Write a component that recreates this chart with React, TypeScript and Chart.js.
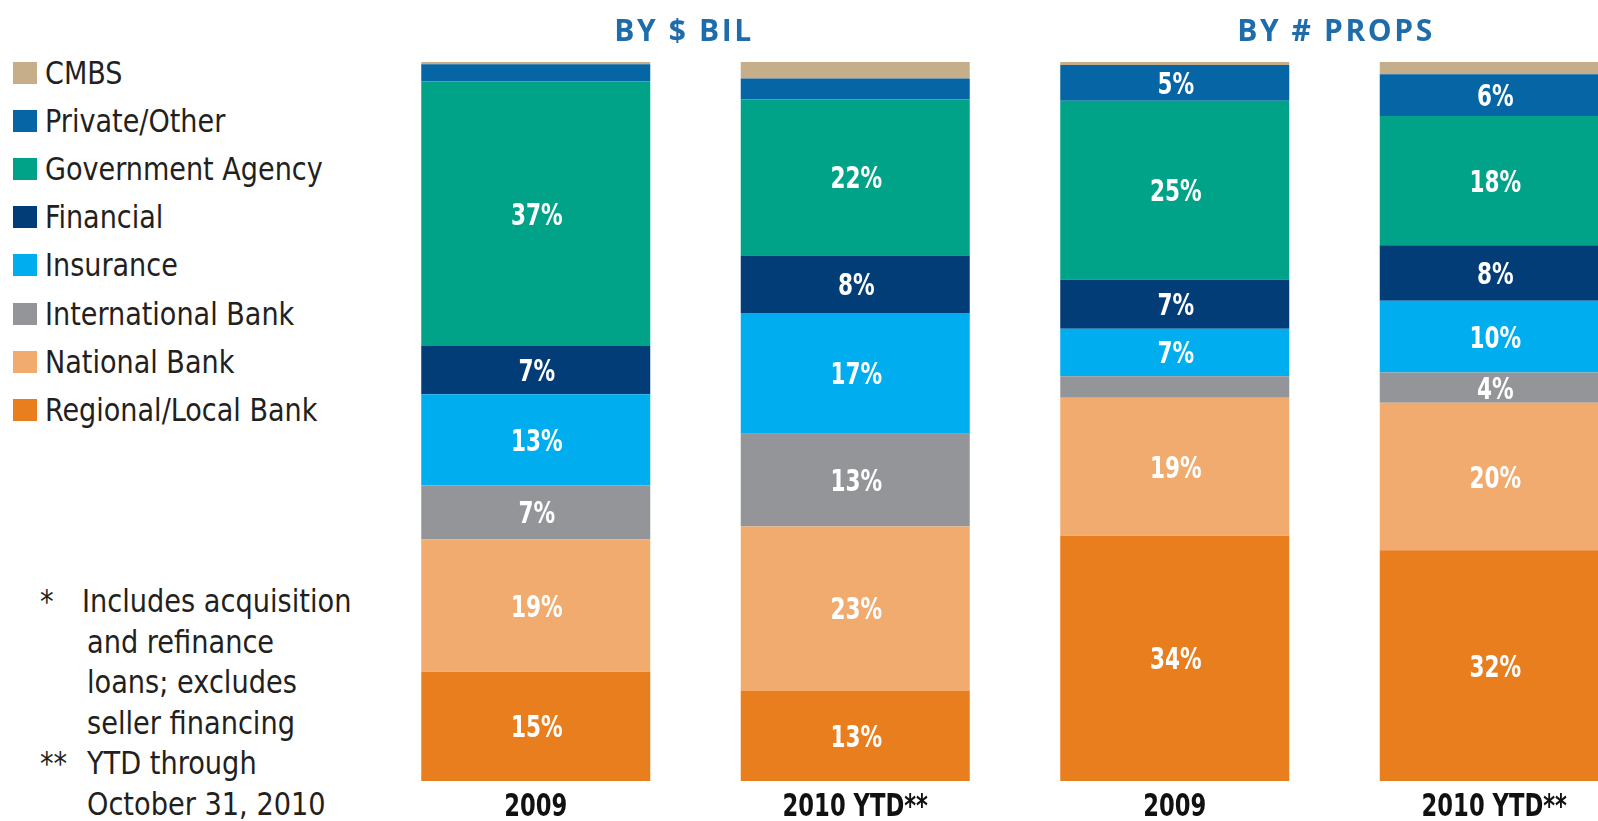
import React, { useEffect, useRef } from "react";
import { Chart, registerables } from "chart.js";

Chart.register(...registerables);

// ---------- data ----------
const categories = ["2009", "2010 YTD**", "2009", "2010 YTD**"];
const groupTitles = ["BY $ BIL", "BY # PROPS"];

// stacked bottom -> top
const seriesNames = [
  "Regional/Local Bank",
  "National Bank",
  "International Bank",
  "Insurance",
  "Financial",
  "Government Agency",
  "Private/Other",
  "CMBS",
];
const seriesColors = [
  "#e97e1e",
  "#f2ab6f",
  "#939598",
  "#00aeef",
  "#033d78",
  "#00a288",
  "#0565a5",
  "#c7ae8a",
];

const regionalLocalBank = [15.2, 12.6, 34.1, 32.1];
const nationalBank = [18.4, 22.8, 19.2, 20.5];
const internationalBank = [7.5, 12.9, 3.0, 4.2];
const insurance = [12.7, 16.8, 6.6, 10.0];
const financial = [6.7, 8.0, 6.8, 7.7];
const governmentAgency = [36.8, 21.7, 24.9, 18.0];
const privateOther = [2.4, 2.9, 5.0, 5.8];
const cmbs = [0.3, 2.3, 0.4, 1.7];

const regionalLabels = ["15%", "13%", "34%", "32%"];
const nationalLabels = ["19%", "23%", "19%", "20%"];
const internationalLabels = ["7%", "13%", "", "4%"];
const insuranceLabels = ["13%", "17%", "7%", "10%"];
const financialLabels = ["7%", "8%", "7%", "8%"];
const governmentLabels = ["37%", "22%", "25%", "18%"];
const privateLabels = ["", "", "5%", "6%"];
const cmbsLabels = ["", "", "", ""];

const footnoteMarks = ["*", "", "", "", "**", ""];
const footnoteLines = [
  "Includes acquisition",
  "and refinance",
  "loans; excludes",
  "seller financing",
  "YTD through",
  "October 31, 2010",
];

// ---------- styling ----------
const NARROW = "'DejaVu Sans Condensed', 'DejaVu Sans', sans-serif";
const TITLE_FONT = "'Open Sans', 'Noto Sans', sans-serif";

const seriesValues = [
  regionalLocalBank,
  nationalBank,
  internationalBank,
  insurance,
  financial,
  governmentAgency,
  privateOther,
  cmbs,
];
const seriesLabels = [
  regionalLabels,
  nationalLabels,
  internationalLabels,
  insuranceLabels,
  financialLabels,
  governmentLabels,
  privateLabels,
  cmbsLabels,
];

const CANVAS_LEFT = 376;
const CANVAS_W = 1278;
const CANVAS_H = 821;

const textPlugin = {
  id: "barTexts",
  afterDatasetsDraw(chart: any) {
    const ctx = chart.ctx;
    ctx.save();
    ctx.textAlign = "center";
    ctx.textBaseline = "alphabetic";

    // segment value labels
    ctx.fillStyle = "#ffffff";
    ctx.font = `bold 30px ${NARROW}`;
    chart.data.datasets.forEach((_ds: any, di: number) => {
      const meta = chart.getDatasetMeta(di);
      meta.data.forEach((el: any, i: number) => {
        const t = seriesLabels[di][i];
        if (!t) return;
        const p = el.getProps(["x", "y", "base"], true);
        const cy = (p.y + p.base) / 2;
        ctx.save();
        ctx.translate(p.x + 1, cy + 11);
        ctx.scale(0.8, 1);
        ctx.fillText(t, 0, 0);
        ctx.restore();
      });
    });

    // category labels under the bars
    const xScale = chart.scales.x;
    ctx.fillStyle = "#111111";
    ctx.font = `bold 31.5px ${NARROW}`;
    chart.data.labels.forEach((c: string, i: number) => {
      const x = xScale.getPixelForValue(i);
      ctx.save();
      ctx.translate(x, chart.chartArea.bottom + 35);
      ctx.scale(0.8, 1);
      ctx.fillText(c, 0, 0);
      ctx.restore();
    });
    ctx.restore();
  },
};

export default function App() {
  const canvasRef = useRef<HTMLCanvasElement | null>(null);

  useEffect(() => {
    if (!canvasRef.current) return;
    const chart = new Chart(canvasRef.current, {
      type: "bar",
      data: {
        labels: categories,
        datasets: seriesNames.map((name, i) => ({
          label: name,
          data: seriesValues[i],
          backgroundColor: seriesColors[i],
          borderWidth: 0,
          barPercentage: 229 / 319.5,
          categoryPercentage: 1,
        })),
      },
      options: {
        responsive: false,
        animation: false,
        devicePixelRatio: 1,
        layout: { padding: { top: 62, left: 0, right: 0, bottom: 40 } },
        plugins: {
          legend: { display: false },
          tooltip: { enabled: false },
          title: { display: false },
        },
        scales: {
          x: {
            display: false,
            stacked: true,
            grid: { display: false },
          },
          y: { stacked: true, display: false, min: 0, max: 100 },
        },
      },
      plugins: [textPlugin],
    } as any);
    return () => chart.destroy();
  }, []);

  const groupCenters = [684, 1336];
  const legendItems = seriesNames.map((n, i) => ({ n, c: seriesColors[i] })).reverse();

  return (
    <div
      style={{
        position: "absolute",
        left: 0,
        top: 0,
        width: 1598,
        height: 821,
        overflow: "hidden",
        background: "#ffffff",
      }}
    >
      <canvas
        ref={canvasRef}
        width={CANVAS_W}
        height={CANVAS_H}
        style={{
          position: "absolute",
          left: CANVAS_LEFT,
          top: 0,
          width: CANVAS_W,
          height: CANVAS_H,
        }}
      />
      {groupTitles.map((t, i) => (
        <div
          key={t}
          style={{
            position: "absolute",
            left: groupCenters[i] - 200,
            width: 400,
            top: 15,
            textAlign: "center",
            fontFamily: TITLE_FONT,
            fontWeight: 700,
            fontSize: 30,
            lineHeight: "30px",
            letterSpacing: "2.6px",
            color: "#1f6cab",
            whiteSpace: "pre",
          }}
        >
          {t}
        </div>
      ))}
      {legendItems.map((it, i) => {
        const cy = 72.5 + i * 48.2;
        return (
          <React.Fragment key={it.n}>
            <div
              style={{
                position: "absolute",
                left: 13,
                top: cy - 11,
                width: 24,
                height: 22,
                background: it.c,
              }}
            />
            <div
              style={{
                position: "absolute",
                left: 45,
                top: cy - 15,
                fontFamily: NARROW,
                fontSize: 31.5,
                lineHeight: "31.5px",
                color: "#231f20",
                whiteSpace: "pre",
                transform: "scaleX(0.955)",
                transformOrigin: "0 50%",
              }}
            >
              {it.n}
            </div>
          </React.Fragment>
        );
      })}
      {footnoteLines.map((line, i) => (
        <React.Fragment key={i}>
          {footnoteMarks[i] ? (
            <div
              style={{
                position: "absolute",
                left: 40,
                top: 581 + i * 40.5,
                fontFamily: NARROW,
                fontSize: 31.5,
                lineHeight: "40.5px",
                color: "#231f20",
                whiteSpace: "pre",
                transform: "scaleX(0.96)",
                transformOrigin: "0 50%",
              }}
            >
              {footnoteMarks[i]}
            </div>
          ) : null}
          <div
            style={{
              position: "absolute",
              left: i === 0 ? 82 : 87,
              top: 581 + i * 40.5,
              fontFamily: NARROW,
              fontSize: 31.5,
              lineHeight: "40.5px",
              color: "#231f20",
              whiteSpace: "pre",
              transform: "scaleX(0.96)",
              transformOrigin: "0 50%",
            }}
          >
            {line}
          </div>
        </React.Fragment>
      ))}
    </div>
  );
}
